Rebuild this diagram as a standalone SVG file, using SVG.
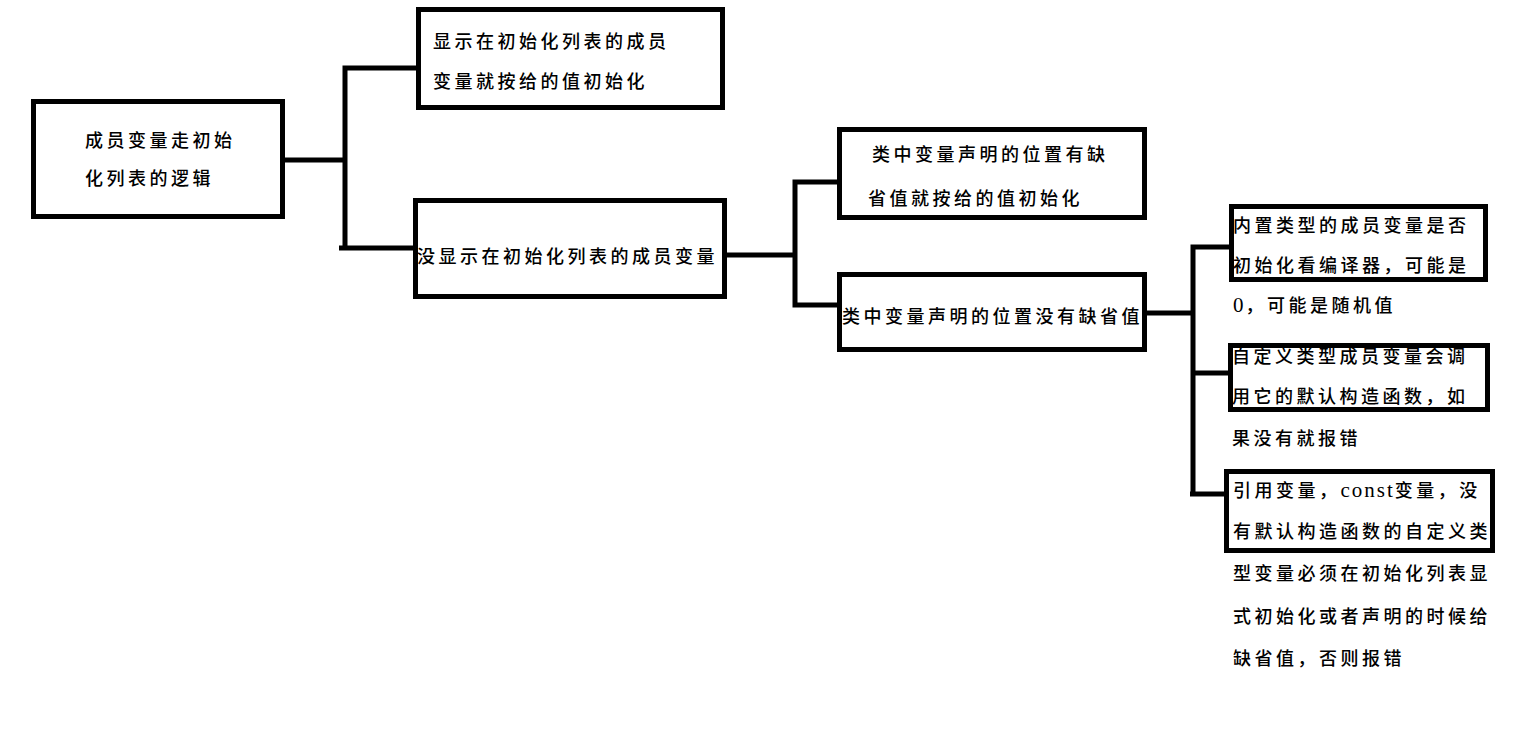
<svg xmlns="http://www.w3.org/2000/svg" width="1517" height="746" viewBox="0 0 1517 746">
<style>
.box{fill:#fff;stroke:#000;stroke-width:5}
.c{fill:none;stroke:#000;stroke-width:5;stroke-linejoin:miter}
text{font-family:"Liberation Serif","Noto Sans CJK SC",serif;font-size:18px;font-weight:500;letter-spacing:3.5px;fill:#000}
.lat{font-size:21px;font-weight:normal;letter-spacing:2px}
</style>
<rect width="1517" height="746" fill="#fff"/>
<g id="connectors">
<path class="c" d="M283 160 H345"/>
<path class="c" d="M416 68 H345 V248"/>
<path class="c" d="M339 248 H413"/>
<path class="c" d="M727 255 H795"/>
<path class="c" d="M837 182 H795 V305 H837"/>
<path class="c" d="M1147 313 H1193"/>
<path class="c" d="M1229 247 H1193 V494"/>
<path class="c" d="M1193 373 H1228"/>
<path class="c" d="M1190 494 H1224"/>
</g>
<g id="root">
<rect class="box" x="33.5" y="101.5" width="249" height="115"/>
<text x="85" y="147">成员变量走初始</text>
<text x="85" y="185">化列表的逻辑</text>
</g>
<g id="shown">
<rect class="box" x="418.5" y="9.5" width="304" height="98"/>
<text x="433" y="48">显示在初始化列表的成员</text>
<text x="433" y="88">变量就按给的值初始化</text>
</g>
<g id="notshown">
<rect class="box" x="415.5" y="200.5" width="309" height="96"/>
<text x="417" y="263">没显示在初始化列表的成员变量</text>
</g>
<g id="hasdefault">
<rect class="box" x="839.5" y="129.5" width="305" height="88"/>
<text x="872" y="161">类中变量声明的位置有缺</text>
<text x="868" y="205">省值就按给的值初始化</text>
</g>
<g id="nodefault">
<rect class="box" x="839.5" y="274.5" width="305" height="75"/>
<text x="842" y="323">类中变量声明的位置没有缺省值</text>
</g>
<g id="builtin">
<rect class="box" x="1231.5" y="206.5" width="254" height="73"/>
<text x="1233" y="232">内置类型的成员变量是否</text>
<text x="1233" y="272">初始化看编译器，可能是</text>
<text x="1233" y="312"><tspan class="lat">0</tspan>，可能是随机值</text>
</g>
<g id="custom">
<rect class="box" x="1230.5" y="345.5" width="257" height="64"/>
<text x="1232" y="363">自定义类型成员变量会调</text>
<text x="1232" y="403">用它的默认构造函数，如</text>
<text x="1232" y="445">果没有就报错</text>
</g>
<g id="reference">
<rect class="box" x="1226.5" y="471.5" width="266" height="79"/>
<text x="1233" y="497">引用变量，<tspan class="lat">const</tspan>变量，没</text>
<text x="1233" y="538">有默认构造函数的自定义类</text>
<text x="1233" y="580">型变量必须在初始化列表显</text>
<text x="1233" y="623">式初始化或者声明的时候给</text>
<text x="1233" y="665">缺省值，否则报错</text>
</g>
</svg>
